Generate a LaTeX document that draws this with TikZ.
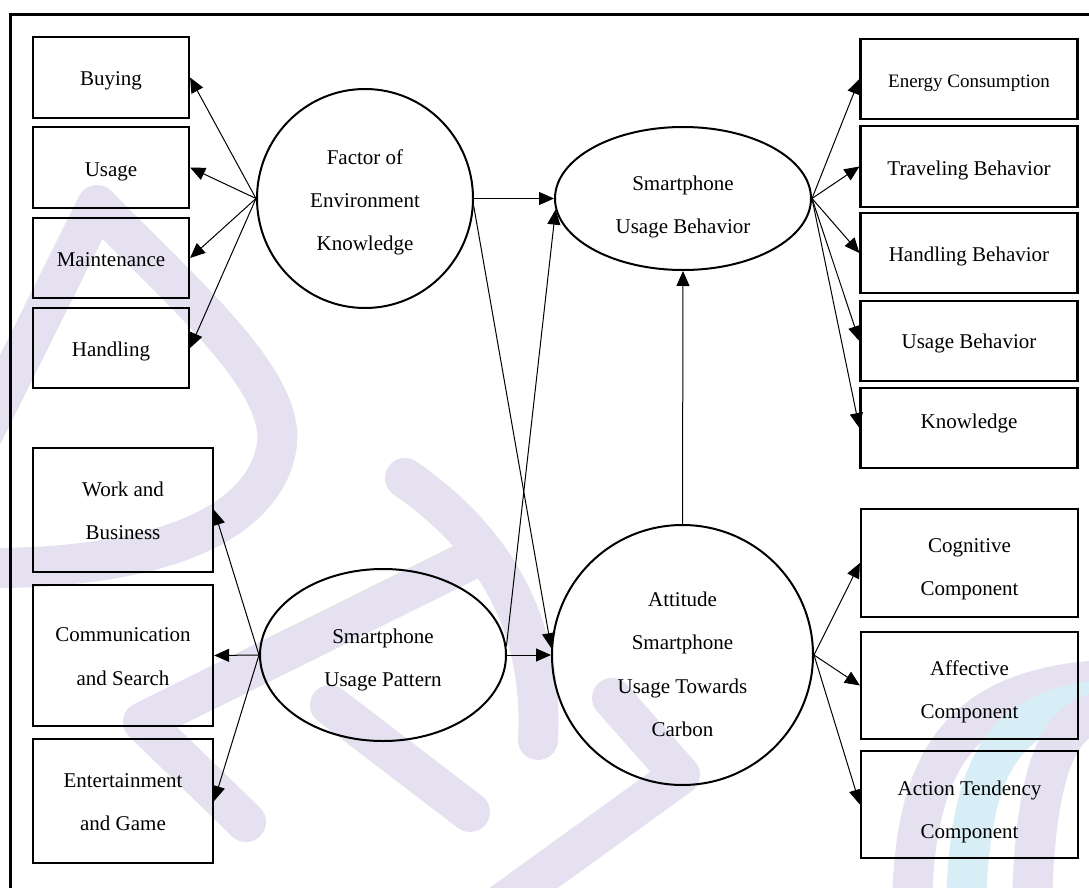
\documentclass[tikz,border=0pt]{standalone}
\usepackage{fontspec}
\setmainfont{Liberation Serif}
\usetikzlibrary{arrows.meta,shapes.geometric}
\definecolor{wmlilac}{HTML}{E5E1F0}
\definecolor{wmsky}{HTML}{D8EEF6}
\begin{document}
\begin{tikzpicture}[x=1pt,y=-1pt,
  every node/.style={inner sep=0pt, align=center, font=\fontsize{21}{43.3}\selectfont},
  box/.style={rectangle, draw, line width=2.2pt},
  lbox/.style={box, minimum width=156pt, minimum height=81pt, text height=17pt, text depth=0pt},
  wbox/.style={box, minimum width=180pt},
  rbox/.style={box, minimum width=217pt, minimum height=80pt, text height=17pt, text depth=0pt},
  cbox/.style={box, minimum width=217pt, minimum height=107pt},
  latent/.style={ellipse, draw, line width=2pt},
  link/.style={line width=1pt, -{Triangle[length=15pt,width=13pt]}},
  wm/.style={line width=40pt, line cap=round, line join=round}
]
% page and background
\path[use as bounding box, fill=white] (0,0) rectangle (1089,888);

% faint background emblem
\begin{scope}[wm]
  \draw[wmlilac] (-20,440) -- (97,205) .. controls (190,300) and (290,385) .. (276,450)
        .. controls (262,520) and (170,566) .. (0,568) -- (-30,568);
  \draw[wmlilac] (405,478) .. controls (480,530) and (545,610) .. (538,740);
  \draw[wmlilac] (470,560) -- (143,722) -- (246,822);
  \draw[wmlilac] (330,705) -- (470,812);
  \draw[wmlilac] (612,698) -- (680,775) -- (500,905);
  \draw[wmlilac] (912,905) .. controls (915,760) and (960,690) .. (1100,680);
  \draw[wmsky]   (966,905) .. controls (970,770) and (1000,710) .. (1100,700);
  \draw[wmlilac] (1032,905) .. controls (1035,780) and (1055,720) .. (1100,712);
\end{scope}

% frame
\draw[line width=2.3pt] (1100,14.5) -- (10.5,14.5) -- (10.5,900);

% latent constructs
\node[latent, minimum width=216pt, minimum height=219pt] (fek) at (365,198.5)
  {\rule{0pt}{22.8pt}Factor of\\Environment\\Knowledge};
\node[latent, minimum width=256pt, minimum height=143pt] (sub) at (683,198.5)
  {\rule{0pt}{30.9pt}Smartphone\\Usage Behavior};
\node[latent, minimum width=246pt, minimum height=172pt] (sup) at (383,655)
  {\rule{0pt}{23.9pt}Smartphone\\Usage Pattern};
\node[latent, minimum width=261pt, minimum height=260pt] (att) at (682.5,655)
  {\rule{0pt}{33pt}Attitude\\Smartphone\\Usage Towards\\Carbon};

% indicators of environment knowledge
\node[lbox] (buy) at (111,77.5) {Buying};
\node[lbox] (use) at (111,167.5) {Usage};
\node[lbox, minimum height=80pt] (mnt) at (111,258) {Maintenance};
\node[lbox, minimum height=80pt] (hdl) at (111,348) {Handling};

% indicators of usage pattern
\node[wbox, minimum height=124pt] (wrk) at (123,510) {\rule{0pt}{16pt}Work and\\Business};
\node[wbox, minimum height=141pt] (com) at (123,655.5) {\rule{0pt}{16pt}Communication\\and Search};
\node[wbox, minimum height=124pt] (ent) at (123,801) {\rule{0pt}{16pt}Entertainment\\and Game};

% indicators of usage behavior
\node[rbox, font=\fontsize{19}{40}\selectfont] (eng) at (969,79) {Energy Consumption};
\node[rbox, minimum height=81pt] (trv) at (969,166.5) {Traveling Behavior};
\node[rbox] (hbh) at (969,253) {Handling Behavior};
\node[rbox, text height=14pt] (ubh) at (969,341) {Usage Behavior};
\node[rbox, text height=0pt] (knw) at (969,428) {Knowledge};

% attitude components
\node[cbox, minimum height=108pt] (cog) at (969.5,563) {\rule{0pt}{27pt}Cognitive\\Component};
\node[cbox] (aff) at (969.5,685.5) {\rule{0pt}{28pt}Affective\\Component};
\node[cbox] (act) at (969.5,804.5) {\rule{0pt}{29pt}Action Tendency\\Component};

% loadings
\foreach \t in {buy,use,mnt,hdl} \draw[link] (fek.west) -- (\t.east);
\foreach \t in {eng,trv,hbh,ubh,knw} \draw[link] (sub.east) -- (\t.west);
\foreach \t in {cog,aff,act} \draw[link] (att.east) -- (\t.west);
\foreach \t in {wrk,com,ent} \draw[link] (sup.west) -- (\t.east);

% structural paths
\draw[link] (fek.east) -- (sub.west);
\draw[link] (fek.-4.5) -- (att.177);
\draw[link] (sup.4) -- (sub.185);
\draw[link] (sup.east) -- (att.west);
\draw[link] (att.north) -- (sub.south);
\end{tikzpicture}
\end{document}
